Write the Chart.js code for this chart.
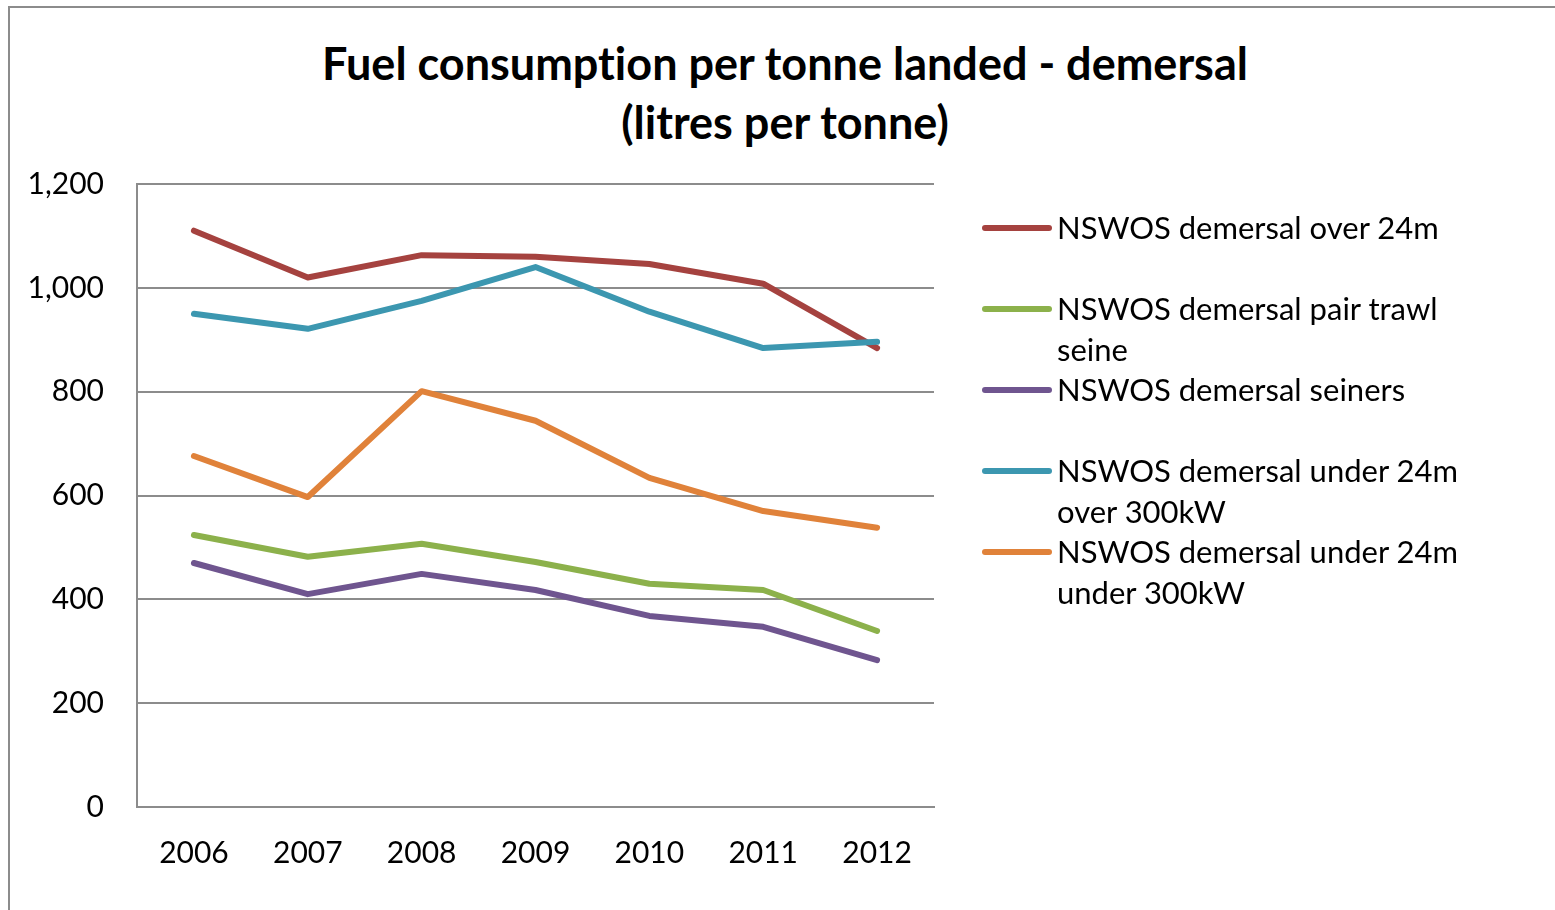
<!DOCTYPE html>
<html>
<head>
<meta charset="utf-8">
<script src="https://cdn.jsdelivr.net/npm/chart.js@4.4.1/dist/chart.umd.min.js"></script>
<style>
  html, body { margin: 0; padding: 0; background: #fff; }
  body { width: 1555px; height: 910px; position: relative; overflow: hidden; font-family: Lato, sans-serif; font-variant-ligatures: none; }
  #frame { position: absolute; left: 8px; top: 6px; width: 1600px; height: 1000px; border: 2px solid #8c8c8c; box-sizing: border-box; }
  #title { position: absolute; left: 9px; width: 1552px; top: 34px; text-align: center; font-weight: bold; font-size: 45px; line-height: 59px; color: #000; }
  #chartBox { position: absolute; left: 0; top: 0; width: 1555px; height: 910px; }
  #legend { position: absolute; left: 982px; top: 207px; }
  .item { height: 81px; display: flex; align-items: flex-start; }
  .swatch { width: 70px; height: 6px; border-radius: 3px; margin-top: 18px; margin-right: 5px; flex: none; }
  .text { width: 430px; font-size: 31px; line-height: 41px; color: #000; }
</style>
</head>
<body>
<div id="frame"></div>
<div id="title">Fuel consumption per tonne landed - demersal<br>(litres per tonne)</div>
<div id="chartBox"><canvas id="dataChart"></canvas></div>
<div id="legend"></div>
<script>
const years = ["2006", "2007", "2008", "2009", "2010", "2011", "2012"];

const over24m = [1110, 1020, 1063, 1060, 1046, 1008, 884];
const pairTrawlSeine = [524, 482, 507, 472, 430, 418, 339];
const seiners = [470, 410, 449, 418, 368, 347, 283];
const under24mOver300 = [950, 921, 975, 1040, 954, 884, 896];
const under24mUnder300 = [676, 597, 801, 744, 634, 570, 538];

const seriesNames = [
    "NSWOS demersal over 24m",
    "NSWOS demersal pair trawl seine",
    "NSWOS demersal seiners",
    "NSWOS demersal under 24m over 300kW",
    "NSWOS demersal under 24m under 300kW"
];
const seriesColors = ["#A5423F", "#8CB14B", "#6F558F", "#3C97B0", "#E0823A"];
const seriesValues = [over24m, pairTrawlSeine, seiners, under24mOver300, under24mUnder300];

const makeDatasets = () => {
    let sets = [];
    for (let i = 0; i < seriesNames.length; i++) {
        sets.push({
            label: seriesNames[i],
            data: seriesValues[i],
            borderColor: seriesColors[i],
            backgroundColor: seriesColors[i],
            borderWidth: 6,
            pointRadius: 0,
            tension: 0,
            borderCapStyle: "round",
            borderJoinStyle: "round",
            // excel draws later series on top
            order: seriesNames.length - i
        });
    }
    return sets;
};

const buildLegend = () => {
    const box = document.getElementById("legend");
    for (let i = 0; i < seriesNames.length; i++) {
        const row = document.createElement("div");
        row.className = "item";
        row.innerHTML = '<div class="swatch" style="background:' + seriesColors[i] + '"></div>' +
            '<div class="text">' + seriesNames[i] + '</div>';
        box.appendChild(row);
    }
};

const gridGray = "#8c8c8c";

const config = {
    type: "line",
    data: { labels: years, datasets: makeDatasets() },
    options: {
        responsive: true,
        maintainAspectRatio: false,
        animation: false,
        layout: { padding: { left: 20, right: 621, top: 184, bottom: 0 } },
        plugins: {
            legend: { display: false },
            title: { display: false },
            tooltip: { enabled: false }
        },
        scales: {
            x: {
                offset: true,
                grid: { display: false, drawTicks: false },
                border: { display: true, color: gridGray, width: 2 },
                ticks: { color: "#000", font: { family: "Lato", size: 30 }, padding: 28, maxRotation: 0 },
                afterFit: (scale) => { scale.height = 103; }
            },
            y: {
                min: 0,
                max: 1200,
                grid: { color: gridGray, lineWidth: 2, drawTicks: false },
                border: { display: true, color: gridGray, width: 2 },
                ticks: {
                    stepSize: 200,
                    color: "#000",
                    font: { family: "Lato", size: 30 },
                    padding: 33,
                    callback: (v) => v.toLocaleString("en-US")
                },
                afterFit: (scale) => { scale.width = 117; }
            }
        }
    }
};

buildLegend();
const dataChart = new Chart(document.getElementById("dataChart"), config);
</script>
</body>
</html>
